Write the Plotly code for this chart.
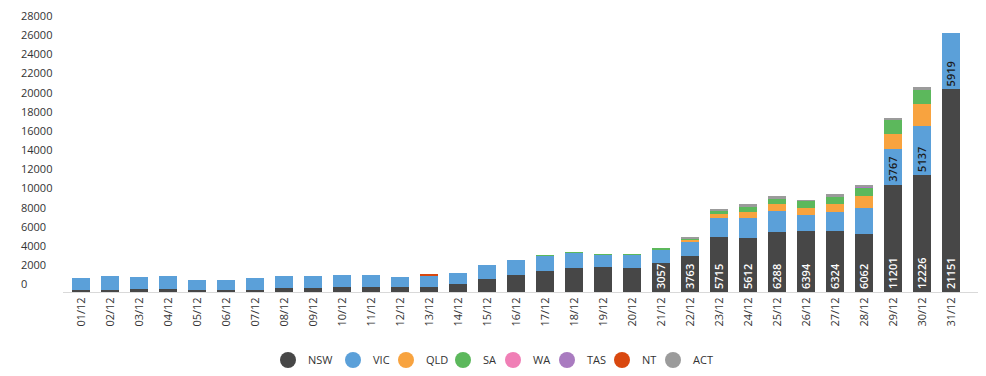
import plotly.graph_objects as go

dates = ["01/12","02/12","03/12","04/12","05/12","06/12","07/12","08/12","09/12","10/12",
         "11/12","12/12","13/12","14/12","15/12","16/12","17/12","18/12","19/12","20/12",
         "21/12","22/12","23/12","24/12","25/12","26/12","27/12","28/12","29/12","30/12","31/12"]

nsw = [250, 250, 320, 320, 210, 210, 220, 420, 420, 559, 536, 485, 536, 804, 1360, 1742, 2213, 2482, 2566, 2501,
       3057, 3763, 5715, 5612, 6288, 6394, 6324, 6062, 11201, 12226, 21151]
vic = [1230, 1420, 1200, 1360, 1000, 1010, 1230, 1260, 1260, 1230, 1230, 1110, 1210, 1230, 1444, 1620, 1590, 1600, 1300, 1370,
       1340, 1503, 2000, 2150, 2190, 1677, 2020, 2760, 3767, 5137, 5919]
qld = [0]*21 + [186, 410, 616, 720, 718, 820, 1150, 1560, 2280, 0]
sa = [0]*16 + [60, 40, 60, 60, 150, 150, 376, 580, 547, 730, 820, 910, 1440, 1400, 0]
wa = [0]*31
tas = [0]*27 + [90, 0, 0, 0]
nt = [0]*12 + [80] + [0]*18
act = [0]*21 + [60, 100, 200, 240, 60, 200, 210, 210, 340, 0]

y_ticks = list(range(0, 28001, 2000))

series = [
    ("NSW", nsw, "#474747"),
    ("VIC", vic, "#5ba0d9"),
    ("QLD", qld, "#f8a33f"),
    ("SA", sa, "#5cb85c"),
    ("WA", wa, "#f07fb6"),
    ("TAS", tas, "#a97bc0"),
    ("NT", nt, "#d9480f"),
    ("ACT", act, "#9b9b9b"),
]

nsw_text = ["" if i < 20 else str(v) for i, v in enumerate(nsw)]
vic_text = ["" if i < 28 else str(v) for i, v in enumerate(vic)]
texts = {"NSW": (nsw_text, "#ffffff"), "VIC": (vic_text, "#1b1b1b")}

legend_widths = {"NSW": 20, "VIC": 8, "QLD": 12, "SA": 5, "WA": 9, "TAS": 10, "NT": 6, "ACT": 20}

FONT = "Open Sans"
W, H = 978, 368
L, R, T, B = 9, 7, 0, 84
plot_w = W - L - R

fig = go.Figure()
for name, vals, color in series:
    kw = {}
    if name in texts:
        t, c = texts[name]
        kw = dict(text=t, textposition="inside", insidetextanchor="start", textangle=-90,
                  textfont=dict(family=FONT, size=11, color=c, weight=600))
    fig.add_trace(go.Bar(x=dates, y=vals, name=name, marker=dict(color=color, line=dict(width=0)),
                         showlegend=False, **kw))
for name, vals, color in series:
    fig.add_trace(go.Scatter(x=[None], y=[None], mode="markers", name=name,
                             marker=dict(symbol="circle", size=16, color=color),
                             legendwidth=legend_widths[name], showlegend=True))

fig.update_layout(
    width=W, height=H,
    margin=dict(l=L, r=R, t=T, b=B),
    barmode="stack", bargap=0.379,
    paper_bgcolor="white", plot_bgcolor="white",
    font=dict(family=FONT, size=11, color="#333333"),
    uniformtext=dict(minsize=11, mode="show"),
    showlegend=True,
    legend=dict(orientation="h", traceorder="normal", xref="container", yref="container",
                x=260/W, xanchor="left", y=(H-352)/H, yanchor="middle", itemsizing="trace",
                font=dict(family=FONT, size=11, color="#333333"), bgcolor="rgba(0,0,0,0)"),
    xaxis=dict(domain=[(55-L)/plot_w, 1], range=[-0.6207, 30.966], type="category",
               tickangle=-90, showgrid=False, showline=True, linecolor="#d9d9d9", linewidth=1,
               ticks="", tickfont=dict(family=FONT, size=11, color="#333333")),
    yaxis=dict(anchor="free", position=0, range=[0, (H - T - B) / 0.00975], tickmode="array",
               tickvals=y_ticks, tickformat="d", showgrid=False, zeroline=False, showline=False,
               ticks="", ticklabelposition="inside top", ticklabeloverflow="allow",
               tickfont=dict(family=FONT, size=11, color="#333333")),
)
fig.write_html("out.html")
